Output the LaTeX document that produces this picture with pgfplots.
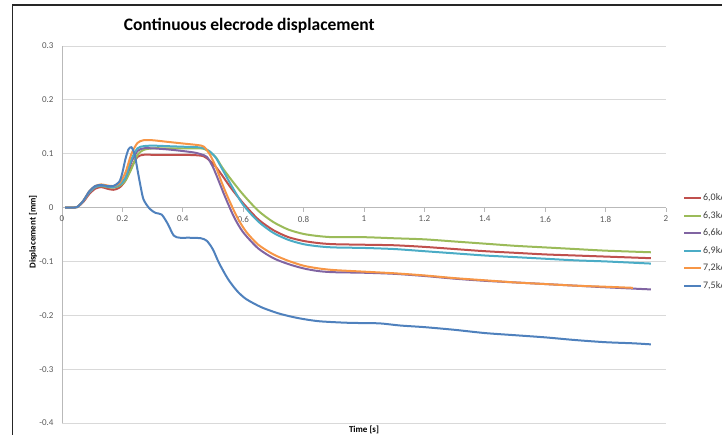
\documentclass[border=0pt]{standalone}
\usepackage{fontspec}
\setmainfont{Carlito}
\usepackage{pgfplots}
\pgfplotsset{compat=1.18}
\definecolor{sred}{HTML}{C0504D}
\definecolor{sgreen}{HTML}{9BBB59}
\definecolor{spurple}{HTML}{8064A2}
\definecolor{saqua}{HTML}{4BACC6}
\definecolor{sorange}{HTML}{F79646}
\definecolor{sblue}{HTML}{4F81BD}
\definecolor{gridgray}{HTML}{D9D9D9}
\definecolor{ticktext}{HTML}{595959}
\begin{document}
\begin{tikzpicture}
\useasboundingbox (0pt,0pt) rectangle (722pt,435pt);
\draw[line width=1.3pt, black!85] (12.5pt,-20pt) -- (12.5pt,430pt) -- (760pt,430pt);
\begin{axis}[
  at={(62pt,12pt)}, anchor=south west,
  scale only axis, width=604pt, height=377pt,
  xmin=0, xmax=2, ymin=-0.4, ymax=0.3,
  axis x line=middle, axis y line=left,
  axis line style={-, draw=gray!55, line width=0.8pt},
  hide obscured x ticks=false, hide obscured y ticks=false,
  xtick={0,0.2,...,2.01}, ytick={-0.4,-0.3,...,0.31},
  ymajorgrids, grid style={gridgray, line width=0.8pt},
  xtick align=outside, major tick length=4pt,
  xtick style={draw=gray!55, line width=0.8pt},
  ytick style={draw=none},
  /pgf/number format/assume math mode=true,
  tick label style={font=\fontsize{9}{10}\selectfont, text=ticktext},
  xticklabel style={yshift=-1pt},
  yticklabel style={xshift=-3pt},
  every axis title shift=0pt,
  title={Continuous elecrode displacement},
  title style={font=\fontsize{17.5}{19}\selectfont\bfseries, at={(0.31,1.055)}, anchor=center, yshift=0pt},
  xlabel={Time [s]},
  xlabel style={font=\fontsize{9}{10}\selectfont\bfseries, at={(0.5,-0.019)}, anchor=center},
  ylabel={Displacement [mm]},
  ylabel style={font=\fontsize{9}{10}\selectfont\bfseries, at={(-0.048,0.507)}, anchor=center, rotate=0},
  legend style={draw=none, fill=none, at={(1.028,0.612)}, anchor=north west,
    font=\fontsize{10}{11}\selectfont, text=black!75,
    nodes={inner sep=1pt, text height=7pt, text depth=2pt},
    row sep=6.6pt, inner sep=0pt},
  legend cell align=left,
  legend image code/.code={\draw[#1, line width=2pt] (0pt,0pt) -- (17pt,0pt);},
  every axis plot/.append style={line width=2pt, smooth, tension=0.45},
  clip=false,
]
\addplot[sred] coordinates {
(0.01,0) (0.03,0) (0.05,0.001) (0.07,0.01) (0.09,0.025) (0.11,0.035) (0.13,0.038) (0.15,0.035) (0.17,0.033) (0.19,0.037) (0.21,0.05) (0.23,0.075) (0.25,0.094) (0.27,0.098) (0.30,0.098) (0.35,0.098) (0.40,0.098) (0.45,0.097) (0.47,0.095) (0.49,0.087) (0.51,0.075) (0.53,0.060) (0.56,0.036) (0.60,0.008) (0.65,-0.022) (0.70,-0.042) (0.75,-0.055) (0.80,-0.062) (0.85,-0.066) (0.90,-0.068) (1.0,-0.069) (1.1,-0.070) (1.2,-0.073) (1.3,-0.077) (1.4,-0.081) (1.5,-0.084) (1.6,-0.087) (1.7,-0.089) (1.8,-0.091) (1.95,-0.094)};
\addlegendentry{6,0kA}
\addplot[sgreen] coordinates {
(0.01,0) (0.03,0) (0.05,0.001) (0.07,0.012) (0.09,0.028) (0.11,0.038) (0.13,0.040) (0.15,0.038) (0.17,0.037) (0.19,0.040) (0.21,0.050) (0.23,0.072) (0.25,0.098) (0.27,0.107) (0.30,0.110) (0.35,0.110) (0.40,0.110) (0.45,0.110) (0.47,0.109) (0.49,0.103) (0.51,0.093) (0.53,0.075) (0.56,0.052) (0.60,0.024) (0.65,-0.006) (0.70,-0.027) (0.75,-0.041) (0.80,-0.049) (0.85,-0.053) (0.90,-0.055) (1.0,-0.055) (1.1,-0.057) (1.2,-0.059) (1.3,-0.063) (1.4,-0.067) (1.5,-0.071) (1.6,-0.074) (1.7,-0.077) (1.8,-0.080) (1.95,-0.083)};
\addlegendentry{6,3kA}
\addplot[spurple] coordinates {
(0.01,0) (0.03,0) (0.05,0.001) (0.07,0.012) (0.09,0.028) (0.11,0.038) (0.13,0.041) (0.15,0.039) (0.17,0.038) (0.19,0.042) (0.21,0.055) (0.23,0.085) (0.25,0.105) (0.27,0.110) (0.30,0.110) (0.35,0.108) (0.40,0.105) (0.44,0.102) (0.46,0.099) (0.48,0.094) (0.50,0.075) (0.52,0.048) (0.54,0.020) (0.57,-0.018) (0.60,-0.046) (0.65,-0.076) (0.70,-0.094) (0.75,-0.105) (0.80,-0.113) (0.85,-0.118) (0.90,-0.120) (1.0,-0.121) (1.1,-0.123) (1.2,-0.127) (1.3,-0.132) (1.4,-0.136) (1.5,-0.139) (1.6,-0.142) (1.7,-0.145) (1.8,-0.148) (1.95,-0.152)};
\addlegendentry{6,6kA}
\addplot[saqua] coordinates {
(0.01,0) (0.03,0) (0.05,0.001) (0.07,0.012) (0.09,0.028) (0.11,0.038) (0.13,0.041) (0.15,0.039) (0.17,0.038) (0.19,0.042) (0.21,0.055) (0.23,0.090) (0.25,0.110) (0.27,0.114) (0.30,0.115) (0.35,0.114) (0.40,0.113) (0.45,0.112) (0.47,0.110) (0.49,0.104) (0.51,0.092) (0.53,0.072) (0.56,0.042) (0.60,0.005) (0.65,-0.026) (0.70,-0.047) (0.75,-0.060) (0.80,-0.068) (0.85,-0.072) (0.90,-0.074) (1.0,-0.075) (1.1,-0.077) (1.2,-0.081) (1.3,-0.085) (1.4,-0.089) (1.5,-0.092) (1.6,-0.095) (1.7,-0.098) (1.8,-0.100) (1.95,-0.104)};
\addlegendentry{6,9kA}
\addplot[sorange] coordinates {
(0.01,0) (0.03,0) (0.05,0.001) (0.07,0.012) (0.09,0.030) (0.11,0.040) (0.13,0.043) (0.15,0.041) (0.17,0.040) (0.19,0.045) (0.21,0.065) (0.23,0.100) (0.25,0.120) (0.27,0.125) (0.30,0.125) (0.35,0.122) (0.40,0.119) (0.45,0.116) (0.47,0.113) (0.49,0.098) (0.51,0.075) (0.53,0.045) (0.55,0.018) (0.58,-0.018) (0.61,-0.045) (0.65,-0.069) (0.70,-0.087) (0.75,-0.099) (0.80,-0.108) (0.85,-0.113) (0.90,-0.116) (1.0,-0.119) (1.1,-0.122) (1.2,-0.126) (1.3,-0.131) (1.4,-0.135) (1.5,-0.139) (1.6,-0.142) (1.7,-0.145) (1.8,-0.147) (1.89,-0.149)};
\addlegendentry{7,2kA}
\addplot[sblue] coordinates {
(0.01,0) (0.03,0) (0.05,0.001) (0.07,0.012) (0.09,0.030) (0.11,0.040) (0.13,0.042) (0.15,0.040) (0.17,0.040) (0.19,0.048) (0.20,0.065) (0.21,0.090) (0.22,0.108) (0.23,0.112) (0.24,0.100) (0.25,0.070) (0.26,0.040) (0.27,0.015) (0.29,-0.002) (0.31,-0.010) (0.33,-0.013) (0.35,-0.030) (0.37,-0.052) (0.39,-0.056) (0.42,-0.056) (0.46,-0.057) (0.48,-0.062) (0.50,-0.078) (0.52,-0.103) (0.55,-0.133) (0.58,-0.155) (0.61,-0.170) (0.66,-0.185) (0.72,-0.197) (0.78,-0.205) (0.85,-0.211) (0.95,-0.214) (1.05,-0.215) (1.12,-0.219) (1.2,-0.222) (1.3,-0.227) (1.4,-0.233) (1.5,-0.237) (1.6,-0.241) (1.7,-0.246) (1.8,-0.250) (1.89,-0.252) (1.95,-0.254)};
\addlegendentry{7,5kA}
\end{axis}
\end{tikzpicture}
\end{document}
